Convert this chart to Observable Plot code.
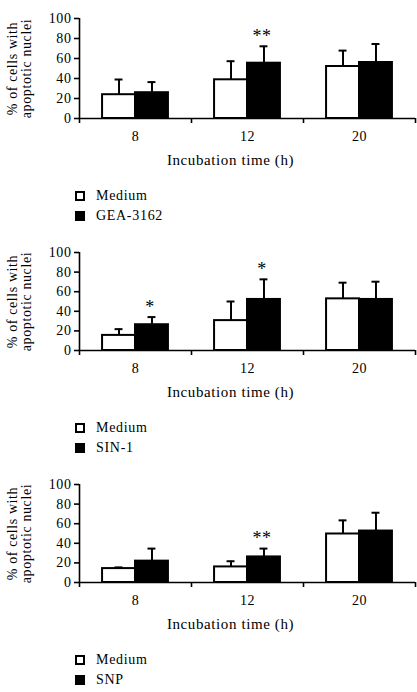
<!DOCTYPE html>
<html>
<head>
<meta charset="utf-8">
<script src="https://cdn.jsdelivr.net/npm/d3@7"></script>
<script src="https://cdn.jsdelivr.net/npm/@observablehq/plot@0.6"></script>
<style>
  html, body { margin: 0; padding: 0; background: #fff; }
  body { width: 417px; height: 692px; overflow: hidden; font-family: "Liberation Serif", "Times New Roman", serif; }
  .panel { position: relative; width: 417px; }
  .panel svg { display: block; }
  .legend { padding-top: 11px; padding-left: 75px; font-size: 14px; letter-spacing: 0.7px; color: #000; }
  .legend .row { height: 20px; line-height: 20px; display: flex; align-items: center; }
  .legend .sw { width: 10px; height: 10px; box-sizing: border-box; border: 2px solid #000; margin-right: 11px; }
</style>
</head>
<body>
<div id="chart"></div>
<script>
// ---- data ----
const times = ["8", "12", "20"];
const yTicks = [0, 20, 40, 60, 80, 100];
const xLabel = "Incubation time (h)";
const yLabel = "% of cells with\napoptotic nuclei";
const controlName = "Medium";
const treatmentNames = ["GEA-3162", "SIN-1", "SNP"];

// Panel A: GEA-3162
const mediumA = [23.8, 38.7, 52.0];
const mediumASD = [15.2, 18.6, 15.9];
const geaA = [25.8, 55.3, 56.0];
const geaASD = [10.6, 16.9, 18.5];
const sigA = ["", "**", ""];

// Panel B: SIN-1
const mediumB = [15.4, 30.5, 52.7];
const mediumBSD = [6.4, 19.5, 16.5];
const sinB = [26.3, 52.1, 52.1];
const sinBSD = [7.8, 20.5, 18.1];
const sigB = ["*", "*", ""];

// Panel C: SNP
const mediumC = [14.2, 15.9, 49.5];
const mediumCSD = [1.2, 5.8, 13.9];
const snpC = [21.8, 26.1, 52.5];
const snpCSD = [12.8, 8.5, 18.7];
const sigC = ["", "**", ""];

// ---- layout ----
const W = 417, ML = 79, MR = 2, MB = 57;
const padOuter = 0.7;
const facetW = (W - ML - MR) / times.length;
const step = facetW / (2 + 2 * padOuter);
const edge = step * (padOuter + 0.5);

function panel(treat, med, medSD, trt, trtSD, sig, marginTop, plotH, panelH) {
  const rows = times.flatMap((t, i) => [
    {time: t, series: controlName, value: med[i], sd: medSD[i]},
    {time: t, series: treat, value: trt[i], sd: trtSD[i]}
  ]);
  const stars = times.map((t, i) => ({time: t, series: treat, top: trt[i] + trtSD[i], sig: sig[i]})).filter(d => d.sig);

  const svg = Plot.plot({
    width: W,
    height: marginTop + plotH + MB,
    marginLeft: ML, marginRight: MR, marginTop: marginTop, marginBottom: MB,
    style: {fontFamily: "'Liberation Serif', 'Times New Roman', serif", fontSize: "14px", background: "white", overflow: "visible"},
    fx: {domain: times, padding: 0, round: false, label: null},
    x: {domain: [controlName, treat], paddingInner: 0, paddingOuter: padOuter, round: false, axis: null},
    y: {domain: [0, 100]},
    color: {domain: [controlName, treat], range: ["white", "black"]},
    marks: [
      Plot.ruleY([0], {stroke: "black", strokeWidth: 1.6}),
      // y axis line (continues as the first boundary tick)
      Plot.ruleX([times[0]], {fx: d => d, x: () => controlName, y1: () => 100, y2: () => 0, dx: -edge, insetBottom: -5, stroke: "black", strokeWidth: 1.6}),
      // group boundary ticks
      Plot.ruleX(times.slice(1), {fx: d => d, x: () => controlName, y1: () => 0, y2: () => 0, dx: -edge, insetBottom: -5, stroke: "black", strokeWidth: 1.6}),
      Plot.ruleX([times[times.length - 1]], {fx: d => d, x: () => treat, y1: () => 0, y2: () => 0, dx: edge, insetBottom: -5, stroke: "black", strokeWidth: 1.6}),
      // error bars
      Plot.ruleX(rows, {fx: "time", x: "series", y1: "value", y2: d => d.value + d.sd, stroke: "black", strokeWidth: 2}),
      Plot.tickY(rows, {fx: "time", x: "series", y: d => d.value + d.sd, stroke: "black", strokeWidth: 2, insetLeft: 12.5, insetRight: 12.5}),
      // bars
      Plot.barY(rows, {fx: "time", x: "series", y: "value", fill: "series", stroke: "black", strokeWidth: 2}),
      // significance
      Plot.text(stars, {fx: "time", x: "series", y: "top", text: "sig", fontSize: 18, dy: -10, dx: -2, lineAnchor: "middle"}),
      Plot.axisY({ticks: yTicks, tickSize: 5, tickPadding: 3, label: null, strokeWidth: 1.6}),
      Plot.axisFx({anchor: "bottom", tickSize: 0, tickPadding: 13, label: null}),
      Plot.text([times[0]], {fx: d => d, text: () => yLabel, frameAnchor: "left", textAnchor: "middle", rotate: -90, dx: -60, lineAnchor: "middle", lineHeight: 1, fontSize: 14}),
      Plot.text([times[1]], {fx: d => d, text: () => xLabel, frameAnchor: "bottom", dy: 36, dx: -17, lineAnchor: "top", fontSize: 15})
    ]
  });
  svg.querySelectorAll("text").forEach(t => { t.style.letterSpacing = "0.6px"; });

  const div = document.createElement("div");
  div.className = "panel";
  div.style.height = panelH + "px";
  div.appendChild(svg);
  const leg = document.createElement("div");
  leg.className = "legend";
  [[controlName, "white"], [treat, "black"]].forEach(([name, c]) => {
    const r = document.createElement("div");
    r.className = "row";
    const sw = document.createElement("span");
    sw.className = "sw";
    sw.style.background = c;
    r.appendChild(sw);
    const tx = document.createElement("span");
    tx.textContent = name;
    r.appendChild(tx);
    leg.appendChild(r);
  });
  div.appendChild(leg);
  return div;
}

const root = document.getElementById("chart");
root.appendChild(panel(treatmentNames[0], mediumA, mediumASD, geaA, geaASD, sigA, 18, 100, 232));
root.appendChild(panel(treatmentNames[1], mediumB, mediumBSD, sinB, sinBSD, sigB, 20, 98, 232));
root.appendChild(panel(treatmentNames[2], mediumC, mediumCSD, snpC, snpCSD, sigC, 20, 98, 228));
</script>
</body>
</html>
